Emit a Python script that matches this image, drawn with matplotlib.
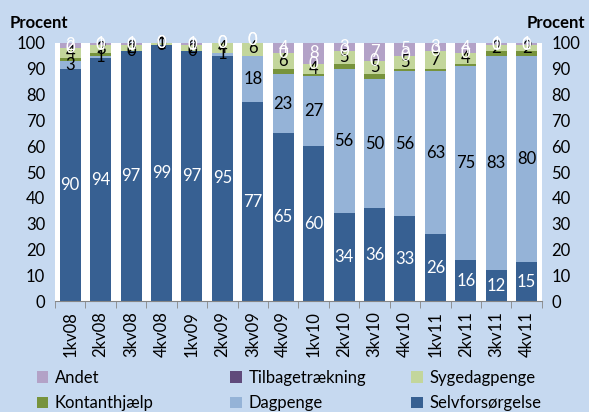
import numpy as np
import matplotlib
matplotlib.use("Agg")
from matplotlib import pyplot as plt
from matplotlib.patches import Patch

plt.rcParams["font.family"] = ["Lato", "DejaVu Sans"]

quarters = ["1kv08", "2kv08", "3kv08", "4kv08", "1kv09", "2kv09", "3kv09", "4kv09",
            "1kv10", "2kv10", "3kv10", "4kv10", "1kv11", "2kv11", "3kv11", "4kv11"]

selvforsorgelse = [90, 94, 97, 99, 97, 95, 77, 65, 60, 34, 36, 33, 26, 16, 12, 15]
dagpenge = [3, 1, 0, 0, 0, 1, 18, 23, 27, 56, 50, 56, 63, 75, 83, 80]
kontanthjaelp = [1, 1, 0, 0, 0, 0, 0, 2, 1, 2, 2, 1, 1, 1, 2, 2]
sygedagpenge = [4, 3, 2, 1, 2, 4, 6, 6, 4, 5, 5, 5, 7, 4, 2, 2]
tilbagetraekning = [0, 0, 0, 0, 0, 0, 0, 0, 0, 0, 0, 0, 0, 0, 0, 0]
andet = [2, 1, 1, 0, 1, 0, 0, 4, 8, 3, 7, 5, 3, 4, 1, 1]

BG = "#C6D9F0"
# (name, values, colour, label colour or None for no labels)
series = [
    ("Selvforsørgelse", selvforsorgelse, "#376092", "white"),
    ("Dagpenge", dagpenge, "#95B3D7", "black"),
    ("Kontanthjælp", kontanthjaelp, "#77933C", None),
    ("Sygedagpenge", sygedagpenge, "#C3D69B", "black"),
    ("Tilbagetrækning", tilbagetraekning, "#604A7B", "white"),
    ("Andet", andet, "#B3A2C7", "white"),
]

fig = plt.figure(figsize=(5.89, 4.12), dpi=100, facecolor=BG)
ax = fig.add_axes([0.0934, 0.269, 0.8266, 0.627])
ax.set_facecolor("white")

x = np.arange(len(quarters))
bottom = np.zeros(len(quarters))
handles = {}
for name, vals, color, lab_color in series:
    vals = np.array(vals, dtype=float)
    ax.bar(x, vals, 0.69, bottom=bottom, color=color, zorder=2)
    handles[name] = Patch(facecolor=color)
    if lab_color is not None:
        for xi, b, v in zip(x, bottom, vals):
            ax.text(xi, b + v / 2, f"{int(v)}", ha="center", va="center",
                    fontsize=12, color=lab_color, zorder=3, clip_on=False)
    bottom += vals

ax.set_xlim(-0.5, len(quarters) - 0.5)
ax.set_ylim(0, 100)
ax.set_yticks(np.arange(0, 101, 10))
ax.set_xticks(x)
ax.set_xticklabels(quarters, rotation=90, fontsize=12)
ax.set_xticks(np.arange(-0.5, len(quarters), 1), minor=True)
ax.tick_params(axis="x", which="major", length=0, pad=7)
ax.tick_params(axis="x", which="minor", length=5, color="#868686")
ax.tick_params(axis="y", length=0, labelsize=12, pad=7)
for s in ["top", "left", "right"]:
    ax.spines[s].set_visible(False)
ax.spines["bottom"].set_color("#868686")

ax2 = ax.twinx()
ax2.set_ylim(0, 100)
ax2.set_yticks(np.arange(0, 101, 10))
ax2.tick_params(axis="y", length=0, labelsize=12, pad=7)
for s in ax2.spines.values():
    s.set_visible(False)

fig.text(0.017, 0.945, "Procent", fontsize=12, fontweight="bold", ha="left", va="center")
fig.text(0.993, 0.945, "Procent", fontsize=12, fontweight="bold", ha="right", va="center")

order = ["Andet", "Tilbagetrækning", "Sygedagpenge", "Kontanthjælp", "Dagpenge", "Selvforsørgelse"]
col_x = [0.062, 0.391, 0.698]
row_y = [0.064, 0.002]
for i, name in enumerate(order):
    lx = col_x[i % 3]
    ly = row_y[i // 3]
    fig.legend([handles[name]], [name], loc="lower left", bbox_to_anchor=(lx, ly),
               frameon=False, fontsize=12, handlelength=0.7, handleheight=0.7,
               handletextpad=0.4, borderpad=0, borderaxespad=0)

fig.savefig("out.png", dpi=100, facecolor=BG)
